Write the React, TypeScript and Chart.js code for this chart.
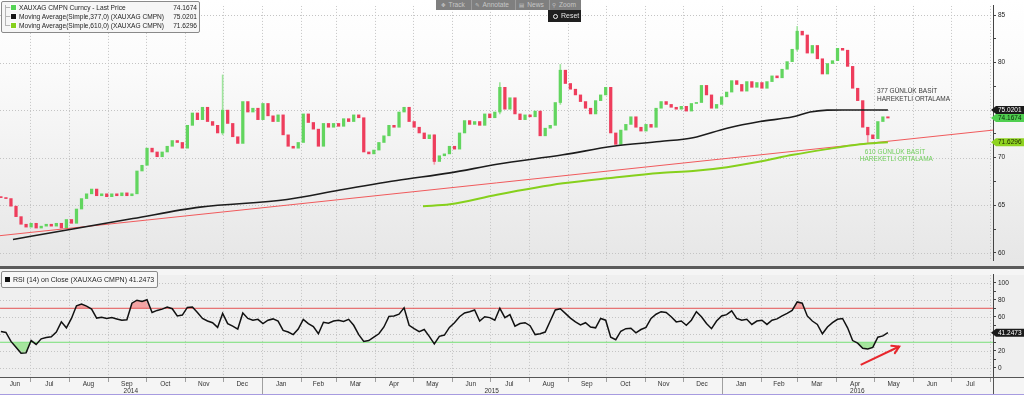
import React, { useEffect, useRef } from 'react';
import { Chart, registerables } from 'chart.js';

Chart.register(...registerables);

const FONT = '"Liberation Sans", Arial, sans-serif';

// x axis unit: days counted from 1 June 2014
const DAY0 = Date.UTC(2014, 5, 1);
const X_MIN = 6.3;
const X_MAX = 794.4;

// sampled trading closes, one every CANDLE_STEP_DAYS calendar days
const CANDLE_FIRST_DAY = 7;
const CANDLE_STEP_DAYS = 4;
const FIRST_OPEN = 65.9;

const closes = [
  65.8, 65.7, 64.9, 63.8, 63.0, 62.7, 63.1, 62.6, 62.8, 63.0,
  62.8, 63.1, 62.6, 63.5, 63.1, 64.6, 65.7, 66.2, 66.7, 66.0,
  66.2, 65.9, 66.2, 66.0, 66.3, 66.0, 66.2, 68.6, 69.2, 71.0,
  70.6, 70.1, 70.6, 71.2, 71.8, 71.6, 71.0, 73.4, 74.7, 74.0,
  75.3, 73.8, 73.4, 72.6, 75.0, 73.6, 72.2, 71.5, 75.9, 74.8,
  75.2, 74.0, 75.7, 74.4, 73.8, 74.5, 72.4, 71.2, 71.0, 71.6,
  74.6, 73.7, 73.0, 71.2, 73.6, 73.2, 73.6, 73.3, 74.1, 73.8,
  74.5, 74.2, 70.6, 70.4, 70.8, 71.6, 72.3, 73.4, 73.2, 74.8,
  75.3, 73.8, 73.2, 72.6, 72.0, 72.4, 69.6, 70.2, 70.4, 71.2,
  70.9, 72.6, 73.9, 73.5, 73.8, 73.4, 74.6, 74.2, 74.8, 77.4,
  75.1, 76.3, 74.6, 74.0, 74.5, 74.3, 74.9, 72.3, 73.1, 73.4,
  75.8, 79.2, 77.8, 77.2, 76.6, 75.9, 75.2, 74.6, 76.0, 76.6,
  77.4, 72.6, 71.4, 72.9, 73.5, 74.3, 73.2, 72.8, 73.5, 73.2,
  75.2, 75.9, 75.6, 75.3, 75.1, 75.4, 74.9, 75.7, 75.8, 77.6,
  76.6, 75.2, 75.6, 76.4, 76.9, 78.1, 77.7, 77.0, 78.0, 77.4,
  77.9, 77.3, 78.0, 78.6, 78.4, 79.3, 80.1, 81.4, 83.3, 82.9,
  81.0, 81.8, 80.4, 78.8, 79.9, 80.2, 81.5, 81.3, 79.6, 77.3,
  76.0, 73.2, 72.4, 72.0, 73.8, 74.3, 74.17,
];

const rsiValues = [
  42.6, 41.5, 31, 24, 17, 17.5, 32, 27.5, 34, 35.5,
  36.5, 42, 54, 47, 58, 73, 75, 72.5, 69, 58.5,
  59.5, 58, 59, 57.5, 56, 56.5, 76, 79.5, 78, 80,
  65, 67.5, 69, 71.5, 69.5, 61, 62, 71, 71.5, 65,
  58, 55, 53, 47.5, 64, 52, 49, 45.5, 64.5, 58,
  56, 57, 52, 56, 57.5, 55, 44, 42, 39, 45.5,
  57, 52, 48.5, 40, 53.5, 52.5, 55, 56, 54.5, 57,
  50, 39, 31, 32, 36, 40, 48, 60.5, 61, 63,
  70.5, 50, 46, 42.5, 45, 37, 28, 37, 38.5, 47.5,
  53, 60, 64.5, 66, 68, 55, 60, 59, 56, 70,
  59, 62.5, 49, 52, 53, 49.5, 39, 40, 42, 55,
  68, 69.5, 64, 58.5, 54, 50.5, 53, 48, 47, 58,
  56, 36, 33, 43, 46, 46.5, 41, 45, 47.5, 58,
  63, 66, 65, 60, 54, 55, 50, 56, 66, 60,
  52, 46, 55, 61, 62.5, 67, 58, 56, 57, 51,
  55, 56, 51, 56, 57.5, 61, 64, 67.5, 77.5, 76,
  61, 55, 51, 40, 48, 53, 57, 58, 47, 32,
  29, 23, 22, 24, 36, 37.5, 41.25,
];

// notable wicks (candle index, low, high)
const wickIndex = [44, 86, 99, 111, 158, 172];
const wickLow = [72.4, 69.3, 74.6, 75.6, 81.2, 71.6];
const wickHigh = [78.7, 72.4, 77.9, 79.8, 83.8, 73.0];

const ma377Days = [16.6, 59.5, 111.8, 165.0, 234.1, 276.1, 321.4, 363.4, 400.7, 453.1, 492.8, 530.1, 556.3, 583.3, 609.5, 635.7, 649.2, 662.7, 675.4, 711];
const ma377Values = [61.4, 62.4, 63.6, 64.8, 65.6, 66.6, 67.6, 68.4, 69.3, 70.3, 71.2, 71.7, 72.1, 73.1, 73.8, 74.3, 74.8, 75.0, 75.02, 75.02];

const ma610Days = [342.0, 363.4, 400.7, 453.1, 492.8, 530.1, 556.3, 583.3, 609.5, 635.7, 662.7, 688.9, 711];
const ma610Values = [64.9, 65.1, 66.1, 67.3, 67.9, 68.4, 68.6, 69.0, 69.6, 70.3, 70.9, 71.4, 71.63];

const trendDays = [X_MIN, X_MAX];
const trendValues = [61.8, 72.9];

const arrowDays = [689.4, 720];
const arrowValues = [3.4, 25];

const LAST_PRICE = 74.1674;
const LAST_MA377 = 75.0201;
const LAST_MA610 = 71.6296;
const LAST_RSI = 41.2473;
const RSI_UPPER = 70;
const RSI_LOWER = 30;

const priceTicks = [60, 65, 70, 75, 80, 85];
const priceMinorTicks = [62.5, 67.5, 72.5, 77.5, 82.5];
const rsiTicks = [0, 20, 40, 60, 80, 100];
const rsiMinorTicks = [10, 30, 50, 70, 90];

const MONTH_NAMES = ['Jan', 'Feb', 'Mar', 'Apr', 'May', 'Jun', 'Jul', 'Aug', 'Sep', 'Oct', 'Nov', 'Dec'];
const YEARS = [2014, 2015, 2016, 2017];

const annotations = [
  { day: 702.3, value: 77.0, text: '377 GÜNLÜK BASİT', color: '#3a3a3a' },
  { day: 702.3, value: 76.2, text: 'HAREKETLİ ORTALAMA', color: '#3a3a3a' },
  { day: 692.7, value: 70.6, text: '610 GÜNLÜK BASİT', color: '#72cf5e' },
  { day: 688.7, value: 69.8, text: 'HAREKETLİ ORTALAMA', color: '#72cf5e' },
];

// ---------- derived helpers ----------
const candleDays = closes.map((_, i) => CANDLE_FIRST_DAY + CANDLE_STEP_DAYS * i);
const opens = closes.map((_, i) => (i === 0 ? FIRST_OPEN : closes[i - 1]));
const xy = (days: number[], vals: number[]) => days.map((d, i) => ({ x: d, y: vals[i] }));
const dayOf = (y: number, m: number) => (Date.UTC(y, m, 1) - DAY0) / 86400000;

const calendarMonths: { day: number; label: string; month: number }[] = [];
for (let k = 0; k <= 27; k++) {
  const m = (5 + k) % 12;
  const y = 2014 + Math.floor((5 + k) / 12);
  calendarMonths.push({ day: dayOf(y, m), label: MONTH_NAMES[m], month: m });
}

function drawGrid(chart: any, hTicks: number[]) {
  const { ctx, chartArea: a, scales } = chart;
  const x = scales.x;
  const y = scales.y;
  ctx.save();
  ctx.beginPath();
  ctx.rect(a.left, a.top, a.right - a.left, a.bottom - a.top);
  ctx.clip();
  ctx.strokeStyle = '#c4c4c4';
  ctx.lineWidth = 1;
  ctx.setLineDash([1, 2]);
  ctx.beginPath();
  for (const m of calendarMonths) {
    if (m.day <= X_MIN || m.day >= X_MAX) continue;
    const px = Math.round(x.getPixelForValue(m.day)) + 0.5;
    ctx.moveTo(px, a.top);
    ctx.lineTo(px, a.bottom);
  }
  for (const v of hTicks) {
    const py = Math.round(y.getPixelForValue(v)) + 0.5;
    ctx.moveTo(a.left, py);
    ctx.lineTo(a.right, py);
  }
  ctx.stroke();
  ctx.restore();
}

function drawTag(ctx: CanvasRenderingContext2D, axisX: number, yPx: number, text: string, bg: string, fg: string, right: number) {
  const h = 8;
  ctx.save();
  ctx.fillStyle = bg;
  ctx.beginPath();
  ctx.moveTo(axisX - 2, yPx);
  ctx.lineTo(axisX + 3, yPx - h / 2);
  ctx.lineTo(right, yPx - h / 2);
  ctx.lineTo(right, yPx + h / 2);
  ctx.lineTo(axisX + 3, yPx + h / 2);
  ctx.closePath();
  ctx.fill();
  ctx.fillStyle = fg;
  ctx.font = `6.5px ${FONT}`;
  ctx.textBaseline = 'middle';
  ctx.textAlign = 'left';
  ctx.fillText(text, axisX + 5, yPx + 0.5);
  ctx.restore();
}

const pricePlugin = {
  id: 'pricePanel',
  beforeDraw(chart: any) {
    const { ctx, width, height } = chart;
    const g = ctx.createLinearGradient(0, 0, 0, height);
    g.addColorStop(0, '#ffffff');
    g.addColorStop(0.25, '#fbfbfb');
    g.addColorStop(1, '#e6e6e6');
    ctx.save();
    ctx.fillStyle = g;
    ctx.fillRect(0, 0, width, height);
    ctx.restore();
  },
  beforeDatasetsDraw(chart: any) {
    drawGrid(chart, priceTicks);
  },
  afterDatasetsDraw(chart: any) {
    const { ctx, scales } = chart;
    ctx.save();
    ctx.font = `6.5px ${FONT}`;
    ctx.textBaseline = 'middle';
    ctx.textAlign = 'left';
    for (const an of annotations) {
      ctx.fillStyle = an.color;
      ctx.fillText(an.text, scales.x.getPixelForValue(an.day), scales.y.getPixelForValue(an.value));
    }
    ctx.restore();
  },
  afterDraw(chart: any) {
    const { ctx, chartArea: a, scales, width } = chart;
    const y = scales.y;
    drawTag(ctx, a.right, y.getPixelForValue(LAST_MA610), LAST_MA610.toFixed(4), '#8fd320', '#1b2600', width);
    drawTag(ctx, a.right, y.getPixelForValue(LAST_PRICE), LAST_PRICE.toFixed(4), '#4fcf4f', '#0a250a', width);
    drawTag(ctx, a.right, y.getPixelForValue(LAST_MA377), LAST_MA377.toFixed(4), '#1a1a1a', '#ffffff', width);
  },
};

const rsiPlugin = {
  id: 'rsiPanel',
  beforeDraw(chart: any) {
    const { ctx, width, height, chartArea: a } = chart;
    ctx.save();
    ctx.fillStyle = '#f5f5f5';
    ctx.fillRect(0, 0, width, height);
    ctx.fillStyle = '#efefef';
    ctx.fillRect(0, a.top, width, a.bottom - a.top);
    ctx.restore();
  },
  beforeDatasetsDraw(chart: any) {
    drawGrid(chart, rsiTicks);
  },
  afterDraw(chart: any) {
    const { ctx, chartArea: a, scales, width, height } = chart;
    const x = scales.x;
    const y = scales.y;
    ctx.save();
    ctx.strokeStyle = '#555';
    ctx.lineWidth = 1;
    ctx.beginPath();
    ctx.moveTo(0, a.bottom + 0.5);
    ctx.lineTo(width, a.bottom + 0.5);
    ctx.moveTo(a.right + 0.5, a.bottom);
    ctx.lineTo(a.right + 0.5, height);
    ctx.stroke();

    ctx.strokeStyle = '#a0a0a0';
    ctx.fillStyle = '#333';
    ctx.font = `6.5px ${FONT}`;
    ctx.textAlign = 'center';
    ctx.textBaseline = 'middle';
    calendarMonths.forEach((m, k) => {
      if (m.day > X_MIN && m.day < X_MAX) {
        const px = Math.round(x.getPixelForValue(m.day)) + 0.5;
        ctx.beginPath();
        ctx.moveTo(px, a.bottom + 1);
        ctx.lineTo(px, m.month === 0 ? height : a.bottom + 5);
        ctx.stroke();
      }
      const next = calendarMonths[k + 1];
      if (!next) return;
      const s = Math.max(m.day, X_MIN);
      const e = Math.min(next.day, X_MAX);
      if (e - s < 10) return;
      ctx.fillText(m.label, x.getPixelForValue((s + e) / 2), a.bottom + 7);
    });
    for (let i = 0; i < YEARS.length - 1; i++) {
      const s = Math.max(dayOf(YEARS[i], 0), X_MIN);
      const e = Math.min(dayOf(YEARS[i + 1], 0), X_MAX);
      if (e - s < 20) continue;
      ctx.fillText(String(YEARS[i]), x.getPixelForValue((s + e) / 2), a.bottom + 14.5);
    }

    // arrow head
    const x0 = x.getPixelForValue(arrowDays[0]);
    const y0 = y.getPixelForValue(arrowValues[0]);
    const x1 = x.getPixelForValue(arrowDays[1]);
    const y1 = y.getPixelForValue(arrowValues[1]);
    const ang = Math.atan2(y1 - y0, x1 - x0);
    ctx.strokeStyle = '#e8262c';
    ctx.lineWidth = 2;
    ctx.lineCap = 'round';
    ctx.beginPath();
    ctx.moveTo(x1 + 8 * Math.cos(ang + 2.6), y1 + 8 * Math.sin(ang + 2.6));
    ctx.lineTo(x1, y1);
    ctx.lineTo(x1 + 8 * Math.cos(ang - 2.6), y1 + 8 * Math.sin(ang - 2.6));
    ctx.stroke();
    ctx.restore();

    drawTag(ctx, a.right, y.getPixelForValue(LAST_RSI), LAST_RSI.toFixed(4), '#1a1a1a', '#ffffff', width);
  },
};

function yAxis(min: number, max: number, major: number[], minor: number[]) {
  return {
    type: 'linear',
    position: 'right',
    min,
    max,
    afterBuildTicks: (s: any) => {
      s.ticks = [...major, ...minor].sort((p, q) => p - q).map((v) => ({ value: v }));
    },
    afterFit: (s: any) => {
      s.width = 31;
    },
    grid: { drawOnChartArea: false, drawTicks: true, tickLength: 3, tickColor: '#444', tickWidth: 1 },
    border: { color: '#444', width: 1 },
    ticks: {
      autoSkip: false,
      padding: 2,
      color: '#222',
      font: { size: 6.5, family: FONT },
      callback: (v: number) => (major.includes(v) ? String(v) : ''),
    },
  };
}

function makePriceConfig(): any {
  const up = '#62d55f';
  const down = '#ee3d5c';
  return {
    type: 'bar',
    data: {
      datasets: [
        {
          type: 'line', label: 'MA377', data: xy(ma377Days, ma377Values),
          borderColor: '#1c1c1c', borderWidth: 1.6, pointRadius: 0, cubicInterpolationMode: 'monotone', order: 1,
        },
        {
          type: 'line', label: 'MA610', data: xy(ma610Days, ma610Values),
          borderColor: '#86d01c', borderWidth: 2, pointRadius: 0, cubicInterpolationMode: 'monotone', order: 1,
        },
        {
          type: 'line', label: 'Trend', data: xy(trendDays, trendValues),
          borderColor: '#f05a5c', borderWidth: 1, pointRadius: 0, order: 2,
        },
        {
          type: 'bar', label: 'Candles',
          data: candleDays.map((d, i) => ({ x: d, y: [opens[i], closes[i]] })),
          backgroundColor: closes.map((c, i) => (c >= opens[i] ? up : down)),
          barThickness: 2.6, minBarLength: 1, grouped: false, order: 3,
        },
        {
          type: 'bar', label: 'Wicks',
          data: wickIndex.map((k, j) => ({ x: candleDays[k], y: [wickLow[j], wickHigh[j]] })),
          backgroundColor: wickIndex.map((k) => (closes[k] >= opens[k] ? '#9fe49d' : '#f39aac')),
          barThickness: 1, grouped: false, order: 4,
        },
      ],
    },
    options: {
      responsive: false,
      animation: false,
      devicePixelRatio: 1,
      events: [],
      layout: { padding: 0 },
      plugins: { legend: { display: false }, tooltip: { enabled: false } },
      scales: {
        x: { type: 'linear', min: X_MIN, max: X_MAX, display: false, offset: false },
        y: yAxis(59.23, 85.96, priceTicks, priceMinorTicks),
      },
    },
    plugins: [pricePlugin],
  };
}

function makeRsiConfig(): any {
  const rsiData = xy(candleDays, rsiValues);
  return {
    type: 'line',
    data: {
      datasets: [
        {
          label: 'RSI', data: rsiData, borderColor: '#111', borderWidth: 1.5, pointRadius: 0,
          fill: { target: { value: RSI_LOWER }, above: 'rgba(0,0,0,0)', below: '#a6e59e' }, order: 0,
        },
        {
          label: 'RSI overbought', data: rsiData, borderColor: 'rgba(0,0,0,0)', borderWidth: 0, pointRadius: 0,
          fill: { target: { value: RSI_UPPER }, above: '#f3a4a4', below: 'rgba(0,0,0,0)' }, order: 3,
        },
        {
          label: 'Upper', data: xy([X_MIN, X_MAX], [RSI_UPPER, RSI_UPPER]),
          borderColor: '#e35656', borderWidth: 1, pointRadius: 0, order: 2,
        },
        {
          label: 'Lower', data: xy([X_MIN, X_MAX], [RSI_LOWER, RSI_LOWER]),
          borderColor: '#78e078', borderWidth: 1, pointRadius: 0, order: 2,
        },
        {
          label: 'Arrow', data: xy(arrowDays, arrowValues),
          borderColor: '#e8262c', borderWidth: 2, pointRadius: 0, order: 1,
        },
      ],
    },
    options: {
      responsive: false,
      animation: false,
      devicePixelRatio: 1,
      events: [],
      layout: { padding: { top: 1, bottom: 18, left: 0, right: 0 } },
      plugins: { legend: { display: false }, tooltip: { enabled: false }, filler: { drawTime: 'beforeDatasetsDraw' } },
      scales: {
        x: { type: 'linear', min: X_MIN, max: X_MAX, display: false, offset: false },
        y: yAxis(-10.9, 109.3, rsiTicks, rsiMinorTicks),
      },
    },
    plugins: [rsiPlugin],
  };
}

const legendRows = [
  { color: '#55d455', text: 'XAUXAG CMPN Curncy - Last Price', value: LAST_PRICE },
  { color: '#161616', text: 'Moving Average(Simple,377,0) (XAUXAG CMPN)', value: LAST_MA377 },
  { color: '#86d01c', text: 'Moving Average(Simple,610,0) (XAUXAG CMPN)', value: LAST_MA610 },
];

// toolbar entries: icon, label and their x offsets inside the bar
const toolbarItems = [
  { icon: '✥', label: 'Track', left: 5 },
  { icon: '✎', label: 'Annotate', left: 39 },
  { icon: '▤', label: 'News', left: 83 },
  { icon: '⚲', label: 'Zoom', left: 116 },
];
const toolbarSeparators = [35, 79, 113];

export default function App() {
  const priceRef = useRef<HTMLCanvasElement>(null);
  const rsiRef = useRef<HTMLCanvasElement>(null);

  useEffect(() => {
    document.body.style.margin = '0';
    const c1 = new Chart(priceRef.current as HTMLCanvasElement, makePriceConfig());
    const c2 = new Chart(rsiRef.current as HTMLCanvasElement, makeRsiConfig());
    return () => {
      c1.destroy();
      c2.destroy();
    };
  }, []);

  const small: React.CSSProperties = { fontFamily: FONT, fontSize: 6.6, lineHeight: '9px', color: '#1e1e1e', whiteSpace: 'nowrap' };

  return (
    <div style={{ position: 'relative', width: 1024, height: 395, overflow: 'hidden', background: '#fff' }}>
      <canvas ref={priceRef} width={1024} height={266} style={{ position: 'absolute', left: 0, top: 0 }} />
      <div style={{ position: 'absolute', left: 0, top: 266, width: 1024, height: 3, background: '#5a5a5a' }} />
      <canvas ref={rsiRef} width={1024} height={126} style={{ position: 'absolute', left: 0, top: 269 }} />
      <div style={{ position: 'absolute', left: 0, top: 394, width: 1024, height: 1, background: '#a79be0' }} />

      {/* price legend */}
      <div style={{ position: 'absolute', left: 1, top: 1, width: 197, height: 30, border: '1px solid #8a8a8a', borderRadius: 2, background: 'rgba(246,246,246,0.96)' }}>
        <div style={{ position: 'absolute', left: 3, top: 3, width: 1, height: 21, background: '#b5b5b5' }} />
        {legendRows.map((r, i) => (
          <React.Fragment key={i}>
            <div style={{ position: 'absolute', left: 3, top: 4.5 + i * 9.3, width: 6, height: 1, background: '#b5b5b5' }} />
            <div style={{ position: 'absolute', left: 9, top: 2.5 + i * 9.3, width: 5, height: 5, background: r.color, outline: '1px solid rgba(255,255,255,0.7)' }} />
            <div style={{ ...small, position: 'absolute', left: 17, top: 0.5 + i * 9.3 }}>{r.text}</div>
            <div style={{ ...small, position: 'absolute', right: 2, top: 0.5 + i * 9.3 }}>{r.value.toFixed(4)}</div>
          </React.Fragment>
        ))}
      </div>

      {/* RSI legend */}
      <div style={{ position: 'absolute', left: 1, top: 271, width: 155, height: 15, border: '1px solid #8a8a8a', borderRadius: 2, background: 'rgba(247,247,247,0.96)' }}>
        <div style={{ position: 'absolute', left: 3, top: 5, width: 5, height: 5, background: '#111' }} />
        <div style={{ ...small, fontSize: 7, position: 'absolute', left: 11, top: 3 }}>RSI (14) on Close (XAUXAG CMPN) {LAST_RSI.toFixed(4)}</div>
      </div>

      {/* toolbar */}
      <div style={{ position: 'absolute', left: 436, top: 0, width: 145, height: 10, background: '#7f7f7f' }}>
        {toolbarSeparators.map((s, i) => (
          <div key={'s' + i} style={{ position: 'absolute', left: s, top: 0, width: 1, height: 10, background: '#9c9c9c' }} />
        ))}
        {toolbarItems.map((t, i) => (
          <div key={i} style={{ position: 'absolute', left: t.left, top: 0, height: 10, lineHeight: '10px', fontFamily: FONT, fontSize: 6.6, color: '#c6c6c6', whiteSpace: 'nowrap' }}>
            <span style={{ fontFamily: '"DejaVu Sans", sans-serif', fontSize: 5.5, marginRight: 3 }}>{t.icon}</span>
            {t.label}
          </div>
        ))}
      </div>
      <div style={{ position: 'absolute', left: 548, top: 10, width: 33, height: 12, background: '#1f1f1f' }}>
        <div style={{ position: 'absolute', left: 5, top: 3.5, width: 3, height: 3, borderRadius: '50%', border: '1.5px solid #f2f2f2' }} />
        <div style={{ position: 'absolute', left: 13, top: 0, lineHeight: '12px', fontFamily: FONT, fontSize: 7, color: '#e4e4e4' }}>Reset</div>
      </div>
    </div>
  );
}
